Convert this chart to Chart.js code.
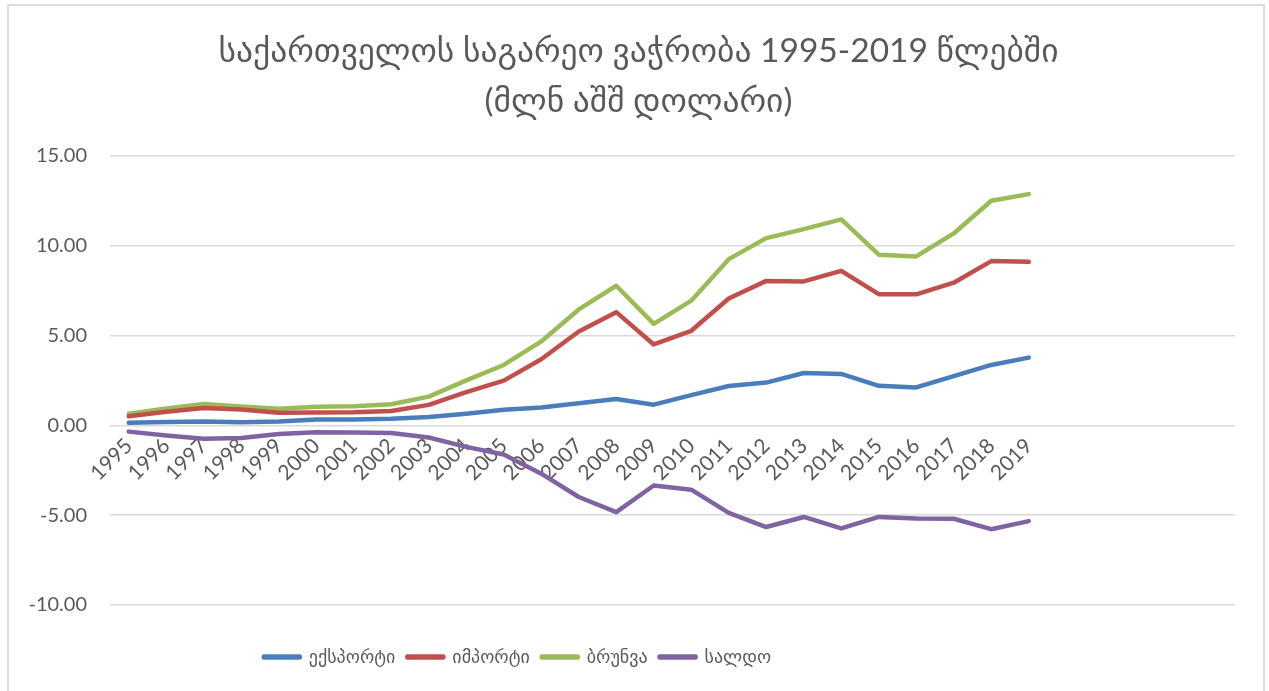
<!DOCTYPE html>
<html>
<head>
<meta charset="utf-8">
<script src="https://cdn.jsdelivr.net/npm/chart.js@4/dist/chart.umd.min.js"></script>
<style>
  body { margin: 0; background: #fff; }
  #wrap { position: relative; width: 1269px; height: 691px; overflow: hidden; }
  #frame { position: absolute; left: 7px; top: 4px; width: 1258px; height: 720px;
           box-sizing: border-box; border: 2px solid #dedede; pointer-events: none; }
</style>
</head>
<body>
<div id="wrap">
  <canvas id="chart" width="1269" height="691"></canvas>
  <div id="frame"></div>
</div>
<script>
// კატეგორიები (წლები) + ცარიელი ადგილები ღერძის ბოლოს, როგორც ორიგინალში
const years = ['1995','1996','1997','1998','1999','2000','2001','2002','2003','2004',
               '2005','2006','2007','2008','2009','2010','2011','2012','2013','2014',
               '2015','2016','2017','2018','2019','','','','',''];

// მნიშვნელობები, მლნ აშშ დოლარი (ნახატიდან ამოკითხული)
const exportVals = [0.15, 0.19, 0.22, 0.17, 0.22, 0.32, 0.33, 0.37, 0.46, 0.65,
                    0.87, 0.99, 1.23, 1.47, 1.15, 1.68, 2.19, 2.38, 2.91, 2.86,
                    2.20, 2.11, 2.74, 3.36, 3.77];
const importVals = [0.50, 0.75, 0.97, 0.88, 0.70, 0.71, 0.73, 0.80, 1.14, 1.85,
                    2.49, 3.68, 5.22, 6.30, 4.50, 5.26, 7.06, 8.04, 8.01, 8.60,
                    7.30, 7.29, 7.94, 9.14, 9.10];
const bruttoVals = [0.65, 0.94, 1.19, 1.05, 0.92, 1.03, 1.06, 1.17, 1.60, 2.50,
                    3.36, 4.67, 6.45, 7.77, 5.65, 6.94, 9.25, 10.42, 10.92, 11.46,
                    9.50, 9.40, 10.68, 12.50, 12.87];
const saldoVals  = [-0.35, -0.56, -0.75, -0.71, -0.48, -0.39, -0.40, -0.43, -0.68, -1.20,
                    -1.62, -2.69, -3.99, -4.83, -3.35, -3.58, -4.87, -5.66, -5.10, -5.74,
                    -5.10, -5.18, -5.20, -5.78, -5.33];

const seriesNames = ['ექსპორტი', 'იმპორტი', 'ბრუნვა', 'სალდო'];
const seriesColors = ['#4a7ebb', '#c0504d', '#9bbb59', '#8064a2'];
const titleLines = ['საქართველოს საგარეო ვაჭრობა 1995-2019 წლებში', '(მლნ აშშ დოლარი)'];
const yTicks = { min: -10, max: 15, step: 5 };

const FONT = "Lato, 'DejaVu Sans', sans-serif";
const TEXT = '#595959';

function makeSet(i, values) {
    return {
        label: seriesNames[i],
        data: values,
        borderColor: seriesColors[i],
        backgroundColor: seriesColors[i],
        borderWidth: 4.5,
        borderCapStyle: 'round',
        borderJoinStyle: 'round',
        pointRadius: 0,
        tension: 0
    };
}

// სათაური ორიგინალში ტილოს შუაშია, ლეგენდა კი მარცხნივაა გადაწეული
const boxShift = {
    id: 'boxShift',
    afterLayout(chart) {
        if (chart.titleBlock) {
            chart.titleBlock.left += 16;
            chart.titleBlock.right += 16;
        }
        if (chart.legend) {
            chart.legend.left -= 105;
            chart.legend.right -= 105;
        }
    }
};

const ctx = document.getElementById('chart').getContext('2d');
new Chart(ctx, {
    type: 'line',
    data: {
        labels: years,
        datasets: [
            makeSet(0, exportVals),
            makeSet(1, importVals),
            makeSet(2, bruttoVals),
            makeSet(3, saldoVals)
        ]
    },
    plugins: [boxShift],
    options: {
        responsive: false,
        animation: false,
        layout: { padding: { left: 10, right: 34, top: 0, bottom: 15 } },
        plugins: {
            title: {
                display: true,
                text: titleLines,
                color: TEXT,
                font: { family: FONT, size: 33.5, weight: 'normal', lineHeight: 1.49 },
                padding: { top: 26, bottom: 30 }
            },
            legend: {
                position: 'bottom',
                title: { display: true, text: '', font: { size: 10, lineHeight: 1.2 }, padding: { top: 19, bottom: 0 } },
                labels: {
                    color: TEXT,
                    font: { family: FONT, size: 18 },
                    boxWidth: 36,
                    boxHeight: 1,
                    padding: 12
                }
            },
            tooltip: { enabled: false }
        },
        scales: {
            x: {
                position: { y: 0 },
                offset: true,
                grid: { display: false, drawTicks: false },
                border: { display: false },
                ticks: {
                    color: TEXT,
                    font: { family: FONT, size: 21 },
                    minRotation: 45,
                    maxRotation: 45,
                    autoSkip: false,
                    padding: 8
                }
            },
            y: {
                min: yTicks.min,
                max: yTicks.max,
                afterFit: function (s) { s.width = 100; },
                grid: { color: '#d9d9d9', lineWidth: 1.5, drawTicks: false },
                border: { display: false },
                ticks: {
                    stepSize: yTicks.step,
                    color: TEXT,
                    font: { family: FONT, size: 20 },
                    padding: 23,
                    callback: function (v) { return v.toFixed(2); }
                }
            }
        }
    }
});
</script>
</body>
</html>
